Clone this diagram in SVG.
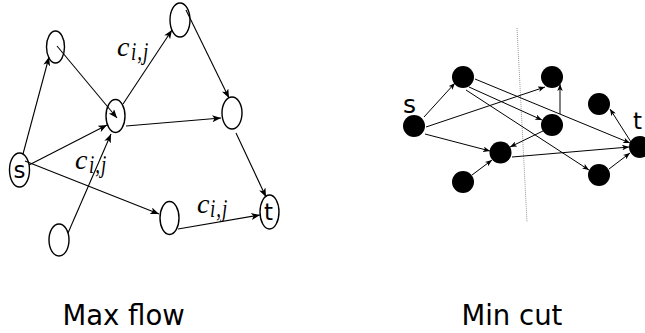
<svg xmlns="http://www.w3.org/2000/svg" width="645" height="333" viewBox="0 0 645 333">
<defs>
<style>
.n{fill:none;stroke:#000;stroke-width:1.4}
.e{fill:none;stroke:#000;stroke-width:1.1}
.e2{fill:none;stroke:#000;stroke-width:1}
.d{fill:#000}
.lbl{font-family:"DejaVu Sans",sans-serif;fill:#000}
.m{font-family:"Liberation Serif",serif;font-style:italic;fill:#000}
</style>
<marker id="a" viewBox="0 0 10 8" refX="10" refY="4" markerWidth="9" markerHeight="7" markerUnits="userSpaceOnUse" orient="auto">
<path d="M0,0 L10,4 L0,8 L2.5,4 z" fill="#000"/>
</marker>
<marker id="b" viewBox="0 0 10 8" refX="10" refY="4" markerWidth="7" markerHeight="5.5" markerUnits="userSpaceOnUse" orient="auto">
<path d="M0,0 L10,4 L0,8 L2.5,4 z" fill="#000"/>
</marker>
</defs>

<!-- Left graph: Max flow -->
<g id="left-connectors">
<line class="e" x1="23" y1="154" x2="49" y2="57" marker-end="url(#a)"/>
<line class="e" x1="57" y1="46" x2="117" y2="118" marker-end="url(#a)"/>
<line class="e" x1="29" y1="165" x2="107" y2="125" marker-end="url(#a)"/>
<line class="e" x1="68" y1="233" x2="111" y2="134" marker-end="url(#a)"/>
<line class="e" x1="25" y1="161" x2="159" y2="214" marker-end="url(#a)"/>
<line class="e" x1="123" y1="104" x2="172" y2="30" marker-end="url(#a)"/>
<line class="e" x1="186" y1="10" x2="229" y2="98" marker-end="url(#a)"/>
<line class="e" x1="126" y1="126" x2="221" y2="118" marker-end="url(#a)"/>
<line class="e" x1="236" y1="133" x2="266" y2="197" marker-end="url(#a)"/>
<line class="e" x1="178" y1="229" x2="260" y2="215" marker-end="url(#a)"/>
</g>
<g id="ls"><ellipse class="n" cx="19.5" cy="170" rx="10" ry="17"/><text class="lbl" x="19.5" y="178" font-size="23" text-anchor="middle">s</text></g>
<g id="la"><ellipse class="n" cx="55.5" cy="47" rx="9" ry="16"/></g>
<g id="lb"><ellipse class="n" cx="115.5" cy="116" rx="9.5" ry="16.5"/></g>
<g id="lc"><ellipse class="n" cx="180" cy="20" rx="10" ry="17"/></g>
<g id="ld"><ellipse class="n" cx="232" cy="113" rx="10" ry="16"/></g>
<g id="le"><ellipse class="n" cx="59" cy="240" rx="10" ry="16"/></g>
<g id="lf"><ellipse class="n" cx="169.5" cy="218" rx="9.5" ry="16.5"/></g>
<g id="lt"><ellipse class="n" cx="269.5" cy="212" rx="9.5" ry="17"/><text class="lbl" x="268.5" y="220" font-size="23" text-anchor="middle">t</text></g>

<g id="cap1">
<text class="m" x="117" y="56" font-size="28">c</text>
<text class="m" transform="translate(131,60) scale(1,1.3)" font-size="19" letter-spacing="1">i,j</text>
</g>
<g id="cap2">
<text class="m" x="75" y="169" font-size="28">c</text>
<text class="m" transform="translate(89,173) scale(1,1.3)" font-size="19" letter-spacing="1">i,j</text>
</g>
<g id="cap3">
<text class="m" x="197" y="213" font-size="28">c</text>
<text class="m" transform="translate(210,217) scale(1,1.3)" font-size="19" letter-spacing="1">i,j</text>
</g>

<text class="lbl" x="62.5" y="325" font-size="27.5">Max flow</text>

<!-- Right graph: Min cut -->
<line x1="517" y1="28" x2="527" y2="222" stroke="#999" stroke-width="1" stroke-dasharray="1,1"/>
<g id="right-connectors">
<line class="e2" x1="424" y1="117" x2="455" y2="83" marker-end="url(#b)"/>
<line class="e2" x1="426" y1="127" x2="545" y2="87" marker-end="url(#b)"/>
<line class="e2" x1="425" y1="134" x2="490" y2="151" marker-end="url(#b)"/>
<line class="e2" x1="475" y1="79" x2="630" y2="143" marker-end="url(#b)"/>
<line class="e2" x1="469" y1="87" x2="542" y2="120" marker-end="url(#b)"/>
<line class="e2" x1="466" y1="90" x2="589" y2="170" marker-end="url(#b)"/>
<line class="e2" x1="560" y1="114" x2="560" y2="84" marker-end="url(#b)"/>
<line class="e2" x1="545" y1="130" x2="510" y2="147" marker-end="url(#b)"/>
<line class="e2" x1="631" y1="142" x2="610" y2="109" marker-end="url(#b)"/>
<line class="e2" x1="512" y1="157" x2="629" y2="147" marker-end="url(#b)"/>
<line class="e2" x1="472" y1="175" x2="492" y2="160" marker-end="url(#b)"/>
<line class="e2" x1="609" y1="169" x2="630" y2="153" marker-end="url(#b)"/>
</g>
<g id="rs"><circle class="d" cx="414" cy="126" r="11"/><text class="lbl" x="403" y="113" font-size="25">s</text></g>
<g id="r1"><circle class="d" cx="463" cy="77" r="11"/></g>
<g id="r2"><circle class="d" cx="552" cy="77" r="11"/></g>
<g id="r3"><circle class="d" cx="552" cy="125" r="11"/></g>
<g id="r4"><circle class="d" cx="599" cy="104" r="11"/></g>
<g id="rq1"><circle class="d" cx="500.5" cy="152.5" r="11"/></g>
<g id="rq2"><circle class="d" cx="463" cy="182" r="11"/></g>
<g id="rq3"><circle class="d" cx="599" cy="175" r="11"/></g>
<g id="rt"><circle class="d" cx="640" cy="147" r="11"/><text class="lbl" x="633" y="129" font-size="23">t</text></g>

<text class="lbl" x="461.5" y="325" font-size="27.5">Min cut</text>
</svg>
